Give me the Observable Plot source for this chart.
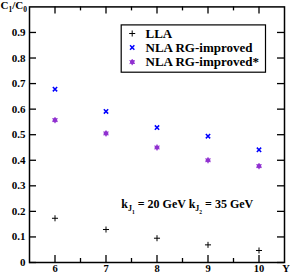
<!DOCTYPE html>
<html><head><meta charset="utf-8">
<script src="https://cdn.jsdelivr.net/npm/d3@7"></script>
<script src="https://cdn.jsdelivr.net/npm/@observablehq/plot@0.6"></script>
<style>html,body{margin:0;padding:0;background:#fff}#chart{width:290px;height:274px}</style>
</head><body><div id="chart"></div>
<script>
// ---- data ----
const rapidity = [6, 7, 8, 9, 10];
const lla = [0.173, 0.129, 0.095, 0.069, 0.047];
const nlaRG = [0.678, 0.591, 0.528, 0.494, 0.441];
const nlaRGstar = [0.557, 0.505, 0.450, 0.400, 0.377];
const seriesNames = ["LLA", "NLA RG-improved", "NLA RG-improved*"];
const xTicks = [6, 7, 8, 9, 10];
const xMinorTicks = [6.5, 7.5, 8.5, 9.5];
const yTicks = [0, 0.1, 0.2, 0.3, 0.4, 0.5, 0.6, 0.7, 0.8, 0.9];
const yTickLabels = ["0", "0.1", "0.2", "0.3", "0.4", "0.5", "0.6", "0.7", "0.8", "0.9"];
const xLabel = "Y";
const yLabel = "C1/C0";
const annotation = "kJ1 = 20 GeV kJ2 = 35 GeV";

const rows = rapidity.map((Y, i) => ({Y, lla: lla[i], rg: nlaRG[i], rgs: nlaRGstar[i]}));

const font = "'Liberation Serif','Times New Roman',serif";
const purple = "#9030d0";
const blue = "#0000ff";
const tick = {stroke: "black", strokeWidth: 1.3};
const tf = {fontFamily: font, fontWeight: "bold"};

function seriesDots(data, opt, k) {
  // k: 0 LLA, 1 NLA RG, 2 NLA RG*
  if (k === 0) return [Plot.dot(data, {...opt, symbol: "plus", r: 2.1, stroke: "black", strokeWidth: 1})];
  if (k === 1) return [Plot.dot(data, {...opt, symbol: "times", r: 2.1, stroke: blue, strokeWidth: 1.5})];
  return [
    Plot.dot(data, {...opt, symbol: "circle", r: 2.3, fill: purple, stroke: "none"}),
    Plot.dot(data, {...opt, symbol: "asterisk", r: 2.9, stroke: purple, strokeWidth: 1})
  ];
}

const legendDx = 102.7, legendTextDx = 116, rowDy = [26.6, 40.6, 55.2];

const legendMarks = [
  Plot.frame({stroke: "black", strokeWidth: 1.2, fill: "white", insetLeft: 91.7, insetTop: 18, insetRight: 19, insetBottom: 190.3})
];
seriesNames.forEach((name, i) => {
  legendMarks.push(...seriesDots([name], {frameAnchor: "top-left", dx: legendDx, dy: rowDy[i]}, i));
  legendMarks.push(Plot.text([name], {text: d => d, frameAnchor: "top-left", dx: legendTextDx, dy: rowDy[i], textAnchor: "start", lineAnchor: "middle", fontSize: 13, ...tf, fill: "black"}));
});

const plot = Plot.plot({
  width: 290, height: 274,
  marginLeft: 29, marginRight: 6, marginTop: 6.4, marginBottom: 12,
  x: {domain: [5.5, 10.5], axis: null},
  y: {domain: [0, 1], axis: null},
  style: {fontFamily: font, background: "white"},
  marks: [
    // ticks (inward)
    Plot.ruleX(xTicks, {x: d => d, y1: 0, y2: 0, insetBottom: 7, ...tick}),
    Plot.ruleX(xMinorTicks, {x: d => d, y1: 0, y2: 0, insetBottom: 4, ...tick}),
    Plot.ruleX(xTicks, {x: d => d, y1: 1, y2: 1, insetBottom: -7, ...tick}),
    Plot.ruleX(xMinorTicks, {x: d => d, y1: 1, y2: 1, insetBottom: -4, ...tick}),
    Plot.ruleY(yTicks, {y: d => d, x1: 5.5, x2: 5.5, insetRight: -7, ...tick}),
    Plot.ruleY(yTicks, {y: d => d, x1: 10.5, x2: 10.5, insetLeft: -7, ...tick}),
    Plot.axisX(xTicks, {tickSize: 0, tickPadding: 2, fontSize: 10.5, ...tf, tickFormat: d => String(d), label: null}),
    Plot.axisY(yTicks, {tickSize: 0, tickPadding: 4, fontSize: 11, ...tf, tickFormat: d => yTickLabels[yTicks.indexOf(d)], label: null}),
    Plot.frame({stroke: "black", strokeWidth: 1.5}),
    // data
    ...seriesDots(rows, {x: "Y", y: "lla"}, 0),
    ...seriesDots(rows, {x: "Y", y: "rg"}, 1),
    ...seriesDots(rows, {x: "Y", y: "rgs"}, 2),
    // legend
    ...legendMarks,
    // annotation
    Plot.text([annotation], {text: d => d, x: 7.3, y: 0.227, textAnchor: "start", lineAnchor: "middle", fontSize: 12, ...tf, fill: "black"}),
    // axis labels
    Plot.text([xLabel], {text: d => d, frameAnchor: "bottom-right", dx: 1.5, dy: 6, textAnchor: "middle", lineAnchor: "middle", fontSize: 10.5, ...tf, fill: "black"}),
    Plot.text([yLabel], {text: d => d, frameAnchor: "top-left", dx: -29, dy: -1.2, textAnchor: "start", lineAnchor: "middle", fontSize: 11, ...tf, fill: "black"})
  ]
});

document.getElementById("chart").appendChild(plot);

// rich text (subscripts)
function setRich(el, parts, sizes, offsets) {
  el.textContent = "";
  let level = 0;
  for (const p of parts) {
    const lv = p.s || 0;
    const ts = document.createElementNS("http://www.w3.org/2000/svg", "tspan");
    const shift = offsets[lv] - offsets[level];
    if (shift) ts.setAttribute("dy", shift);
    ts.setAttribute("font-size", sizes[lv]);
    ts.textContent = p.t;
    el.appendChild(ts);
    level = lv;
  }
}
plot.querySelectorAll("text").forEach(el => {
  if (el.textContent === annotation) {
    setRich(el, [
      {t: "k"}, {t: "J", s: 1}, {t: "1", s: 2}, {t: " = 20 GeV k"},
      {t: "J", s: 1}, {t: "2", s: 2}, {t: " = 35 GeV"}
    ], [12, 8, 5.5], [0, 3, 5.5]);
  } else if (el.textContent === yLabel) {
    setRich(el, [{t: "C"}, {t: "1", s: 1}, {t: "/C"}, {t: "0", s: 1}], [11, 7.5], [0, 2.5]);
  }
});
</script>
</body></html>
